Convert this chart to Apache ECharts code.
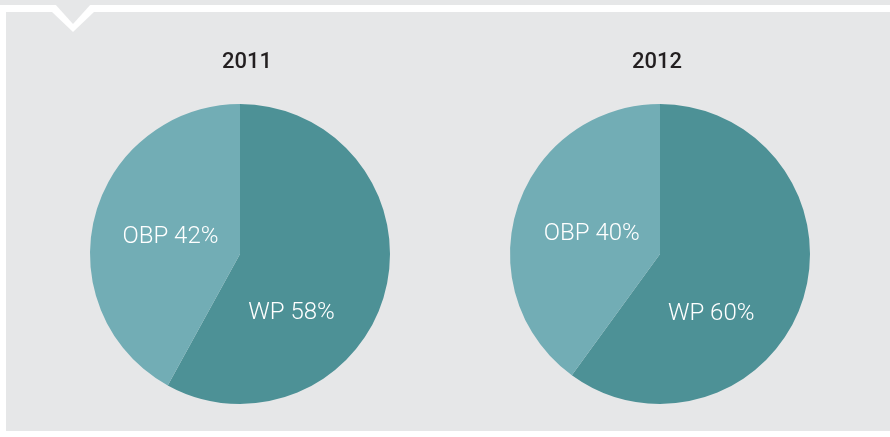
<!DOCTYPE html>
<html>
<head>
<meta charset="utf-8">
<script src="https://cdn.jsdelivr.net/npm/echarts@6/dist/echarts.min.js"></script>
<style>
  html, body { margin: 0; padding: 0; background: #ffffff; }
  #chart { width: 890px; height: 437px; }
</style>
</head>
<body>
<div id="chart"></div>
<script>
const years = ['2011', '2012']
const sliceNames = ['WP', 'OBP']
const values2011 = [58, 42]
const values2012 = [60, 40]

const darkTeal = '#4d9196'
const lightTeal = '#72adb5'

const chart = echarts.init(document.getElementById('chart'))

// nudge labels away from the default inside position
const labelShift = {
  '2011': { WP: [-24, 40], OBP: [6, 2] },
  '2012': { WP: [-23, 36], OBP: [6, 4] }
}

const makePie = (year, values, center) => ({
  name: year,
  type: 'pie',
  center: center,
  radius: 150,
  startAngle: 90,
  clockwise: true,
  silent: true,
  animation: false,
  label: {
    show: true,
    position: 'inside',
    color: '#ffffff',
    fontFamily: 'Roboto',
    fontSize: 24,
    fontWeight: 300,
    formatter: p => p.name + ' ' + p.value + '%'
  },
  labelLine: { show: false },
  labelLayout: p => {
    const s = labelShift[year][sliceNames[p.dataIndex]]
    return { dx: s[0], dy: s[1] }
  },
  data: sliceNames.map((n, i) => ({
    name: n,
    value: values[i],
    itemStyle: { color: i === 0 ? darkTeal : lightTeal }
  }))
})

const titleStyle = { fontFamily: 'Roboto', fontSize: 22, fontWeight: 500, color: '#231f20' }

const option = {
  backgroundColor: '#ffffff',
  title: [
    { text: years[0], left: 242, top: 46, textAlign: 'center', textStyle: titleStyle },
    { text: years[1], left: 652, top: 46, textAlign: 'center', textStyle: titleStyle }
  ],
  graphic: [
    { type: 'rect', z: -10, shape: { x: 6, y: 12, width: 884, height: 419 }, style: { fill: '#e6e7e8' } },
    { type: 'rect', z: -10, shape: { x: 0, y: 0, width: 890, height: 5 }, style: { fill: '#e6e7e8' } },
    { type: 'polygon', z: -9, shape: { points: [[52, 12], [73, 32], [94, 12]] }, style: { fill: '#ffffff' } },
    { type: 'polygon', z: -8, shape: { points: [[55, 4], [73, 24], [91, 4]] }, style: { fill: '#e6e7e8' } }
  ],
  series: [
    makePie(years[0], values2011, [240, 254]),
    makePie(years[1], values2012, [660, 254])
  ]
}

chart.setOption(option)
</script>
</body>
</html>
